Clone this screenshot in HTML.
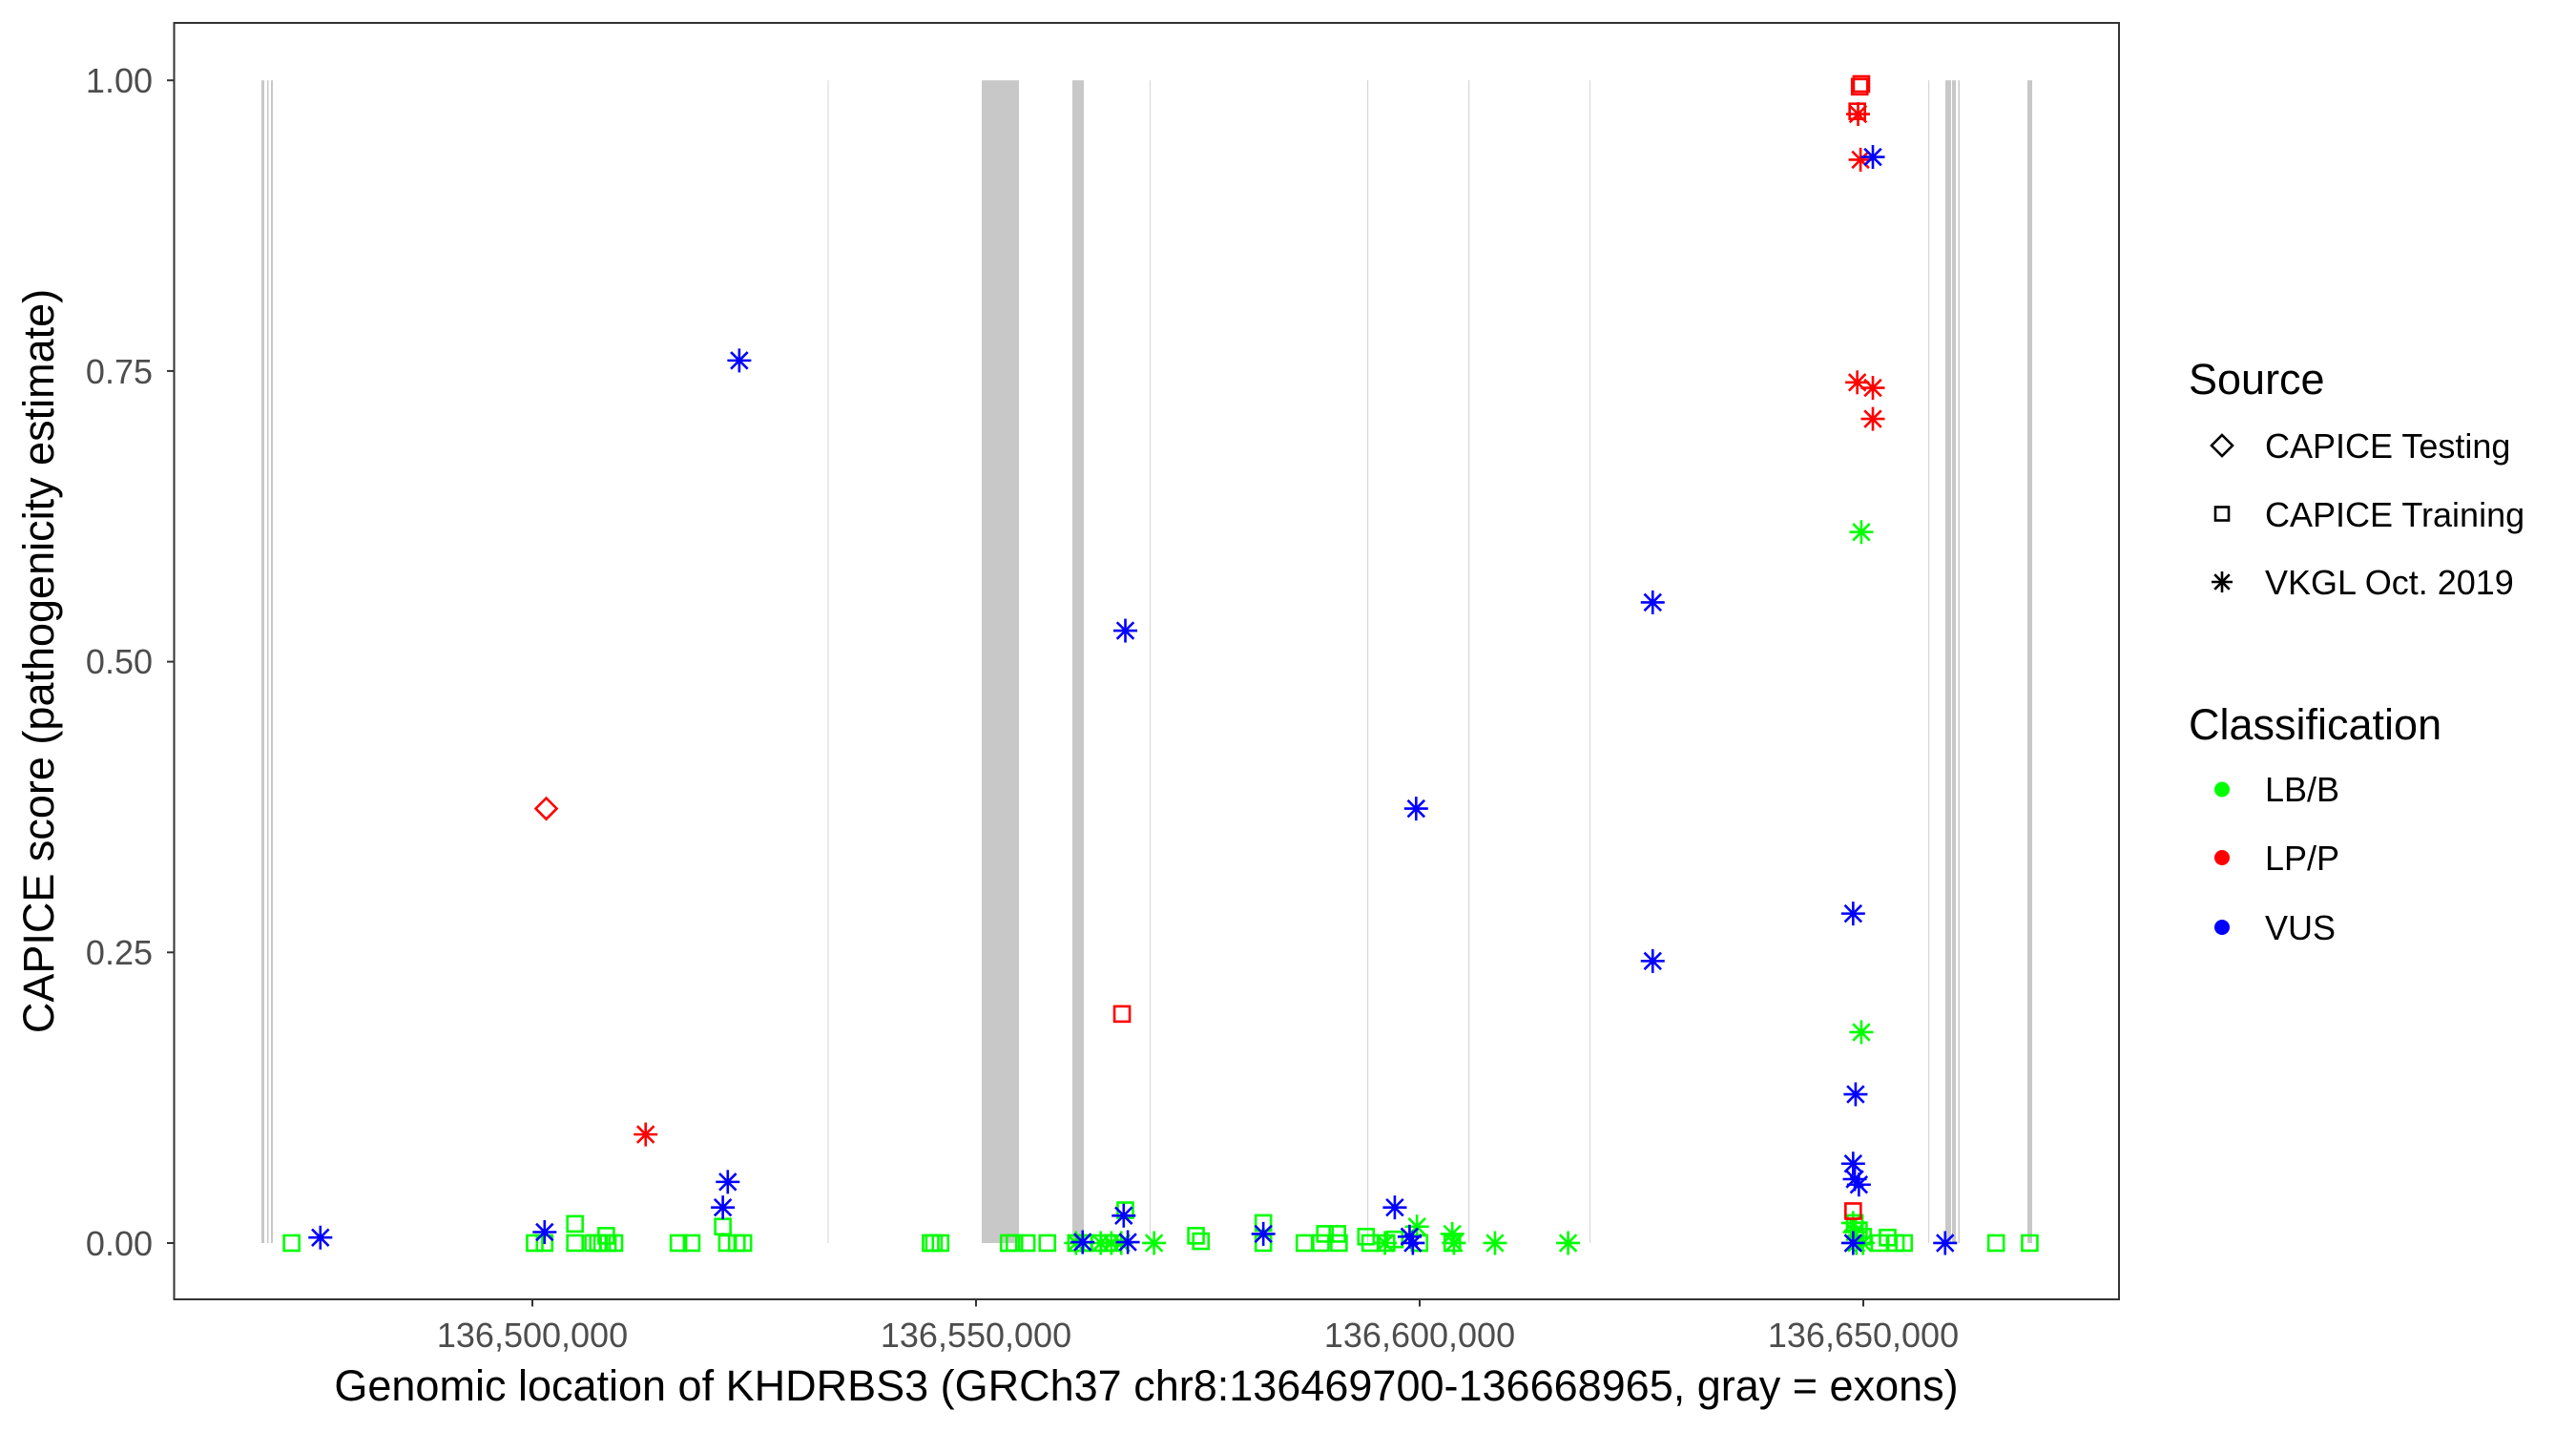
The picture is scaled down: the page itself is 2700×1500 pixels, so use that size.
<!DOCTYPE html>
<html><head><meta charset="utf-8"><style>
html,body{margin:0;padding:0;background:#fff;}
svg{display:block;font-family:"Liberation Sans",Arial,sans-serif;}
</style></head><body>
<svg id="s" width="2700" height="1500" viewBox="0 0 2700 1500" xmlns="http://www.w3.org/2000/svg">
<rect width="2700" height="1500" fill="#fff"/>
<g id="ex" fill="#c8c8c8"></g>
<g id="pts" fill="none" stroke-width="2.6"></g>
<rect x="182.5" y="24" width="2038.5" height="1338" fill="none" stroke="#333" stroke-width="2"/>
<g stroke="#333" stroke-width="2">
<line x1="175" y1="84.2" x2="182.5" y2="84.2"/><line x1="175" y1="388.9" x2="182.5" y2="388.9"/>
<line x1="175" y1="693.6" x2="182.5" y2="693.6"/><line x1="175" y1="998.3" x2="182.5" y2="998.3"/>
<line x1="175" y1="1303" x2="182.5" y2="1303"/>
<line x1="558" y1="1362" x2="558" y2="1369.5"/><line x1="1023" y1="1362" x2="1023" y2="1369.5"/>
<line x1="1488" y1="1362" x2="1488" y2="1369.5"/><line x1="1953" y1="1362" x2="1953" y2="1369.5"/>
</g>
<g fill="#4d4d4d" font-size="36" text-anchor="end">
<text x="160" y="97">1.00</text><text x="160" y="402">0.75</text><text x="160" y="706">0.50</text>
<text x="160" y="1011">0.25</text><text x="160" y="1316">0.00</text>
</g>
<g fill="#4d4d4d" font-size="36" text-anchor="middle">
<text x="558" y="1412">136,500,000</text><text x="1023" y="1412">136,550,000</text>
<text x="1488" y="1412">136,600,000</text><text x="1953" y="1412">136,650,000</text>
</g>
<text x="1201.5" y="1468" font-size="45" text-anchor="middle" fill="#000">Genomic location of KHDRBS3 (GRCh37 chr8:136469700-136668965, gray = exons)</text>
<text transform="translate(56,693) rotate(-90)" font-size="45" text-anchor="middle" fill="#000">CAPICE score (pathogenicity estimate)</text>
<g font-size="45" fill="#000"><text x="2294" y="413">Source</text><text x="2294" y="775">Classification</text></g>
<g font-size="36" fill="#000">
<text x="2374" y="480">CAPICE Testing</text><text x="2374" y="552">CAPICE Training</text><text x="2374" y="623">VKGL Oct. 2019</text>
<text x="2374" y="840">LB/B</text><text x="2374" y="912">LP/P</text><text x="2374" y="985">VUS</text>
</g>
<g id="leg" fill="none" stroke="#000" stroke-width="2.6"></g>
<circle cx="2329" cy="827.5" r="8" fill="#00ff00"/><circle cx="2329" cy="899" r="8" fill="#ff0000"/><circle cx="2329" cy="972" r="8" fill="#0000ff"/>
</svg>
<script>
var NS="http://www.w3.org/2000/svg";
function el(p,t,a){var e=document.createElementNS(NS,t);for(var k in a)e.setAttribute(k,a[k]);p.appendChild(e);return e;}
var ex=document.getElementById('ex');
[[274,3],[280,1.5],[284,2],[867.5,1],[1029,39],[1124,12],[1205,1],[1433,1.2],[1539,1.2],[1666,1],[2021,1.2],[2039,6],[2046,4],[2052.5,1.5],[2125,5]].forEach(function(b){
 el(ex,'rect',{x:b[0],y:84.2,width:b[1],height:1218.8,fill:b[1]<=1.2?'#d6d6d6':'#c8c8c8'});});
var pts=document.getElementById('pts');
var C={g:'#00ff00',r:'#ff0000',b:'#0000ff'};
function ast(g,x,y,c){var r=12.5,d=8.8;var s={stroke:c};
 el(g,'line',Object.assign({x1:x-r,y1:y,x2:x+r,y2:y},s));el(g,'line',Object.assign({x1:x,y1:y-r,x2:x,y2:y+r},s));
 el(g,'line',Object.assign({x1:x-d,y1:y-d,x2:x+d,y2:y+d},s));el(g,'line',Object.assign({x1:x-d,y1:y+d,x2:x+d,y2:y-d},s));}
function sq(g,x,y,c){el(g,'rect',{x:x-8,y:y-8,width:16,height:16,stroke:c});}
function dia(g,x,y,c){el(g,'polygon',{points:(x)+','+(y-11)+' '+(x+11)+','+y+' '+x+','+(y+11)+' '+(x-11)+','+y,stroke:c});}
var kx=1.1615, ky=1.0453;
function L(z){return [z[0]/kx,z[1]/ky];} function R(z){return [1350+z[0]/kx,z[1]/ky];}
var data=[
['s','g',355,1362,0],['s','g',651,1362,0],['s','g',663,1362,0],['s','g',700,1341,0],['s','g',700,1362,0],
['s','g',722,1362,0],['s','g',728,1362,0],['s','g',733,1362,0],['s','g',740,1362,0],['s','g',748,1362,0],['s','g',738,1354,0],
['s','g',826,1362,0],['s','g',842,1362,0],['s','g',880,1344,0],['s','g',885,1362,0],['s','g',897,1362,0],['s','g',905,1362,0],
['s','g',1133,1362,0],['s','g',1137,1362,0],['s','g',1145,1362,0],['s','g',1228,1362,0],['s','g',1235,1362,0],['s','g',1250,1362,0],['s','g',1275,1362,0],
['s','g',1310,1362,0],['s','g',1320,1362,0],['s','g',1338,1362,0],['s','g',1350,1362,0],['s','g',1370,1326,0],
['s','g',1456,1354,0],['s','g',1462,1360,0],['s','g',1538,1340,0],['s','g',1538,1362,0],
['a','g',1310,1362,0],['a','g',1340,1362,0],['a','g',1353,1362,0],['a','g',1365,1362,0],['a','g',1405,1362,0],
['d','r',665,886,0],['a','r',786,1243,0],['s','r',1366,1111,0],
['a','b',390,1356,0],['a','b',663,1350,0],['a','b',900,395,0],['a','b',886,1295,0],['a','b',880,1323,0],['a','b',1370,691,0],
['a','b',1368,1332,0],['a','b',1318,1361,0],['a','b',1373,1361,0],['a','b',1538,1352,0],
['s','g',20,1362,1],['s','g',40,1362,1],['s','g',45,1352,1],['s','g',60,1352,1],['s','g',62,1362,1],['s','g',95,1355,1],['s','g',100,1362,1],
['s','g',120,1362,1],['s','g',130,1358,1],['s','g',160,1362,1],['s','g',200,1362,1],['s','g',862,1362,1],['s','g',903,1362,1],
['s','g',720,1362,1],['s','g',730,1356,1],['s','g',740,1362,1],['s','g',750,1362,1],['s','g',690,1340,1],['s','g',695,1348,1],['s','g',700,1355,1],
['a','g',118,1362,1],['a','g',157,1344,1],['a','g',200,1352,1],['a','g',202,1362,1],['a','g',252,1362,1],['a','g',341,1362,1],
['a','g',698,583,1],['a','g',698,1131,1],['a','g',688,1340,1],['a','g',690,1350,1],['a','g',692,1362,1],['a','g',700,1362,1],
['s','r',698,92,1],['s','r',696,95,1],['s','r',693,122,1],['s','r',688,1327,1],
['a','r',694,125,1],['a','r',697,175,1],['a','r',693,419,1],['a','r',712,425,1],['a','r',712,459,1],
['a','b',130,1323,1],['a','b',148,1355,1],['a','b',152,1362,1],['a','b',156,886,1],['a','b',444,660,1],['a','b',444,1053,1],
['a','b',688,1001,1],['a','b',691,1199,1],['a','b',688,1275,1],['a','b',690,1292,1],['a','b',695,1298,1],['a','b',688,1362,1],
['a','b',712,172,1],['a','b',800,1362,1]
];
data.forEach(function(d){var p=d[4]?R([d[2],d[3]]):L([d[2],d[3]]);var c=C[d[1]];
 if(d[0]=='s')sq(pts,p[0],p[1],c);else if(d[0]=='a')ast(pts,p[0],p[1],c);else dia(pts,p[0],p[1],c);});
var leg=document.getElementById('leg');
dia(leg,2329,467,'#000');
el(leg,'rect',{x:2322,y:531.5,width:14,height:14,stroke:'#000'});
(function(){var x=2329,y=610,r=11,d=7.8;[[x-r,y,x+r,y],[x,y-r,x,y+r],[x-d,y-d,x+d,y+d],[x-d,y+d,x+d,y-d]].forEach(function(q){el(leg,'line',{x1:q[0],y1:q[1],x2:q[2],y2:q[3]});});})();
</script>
</body></html>
